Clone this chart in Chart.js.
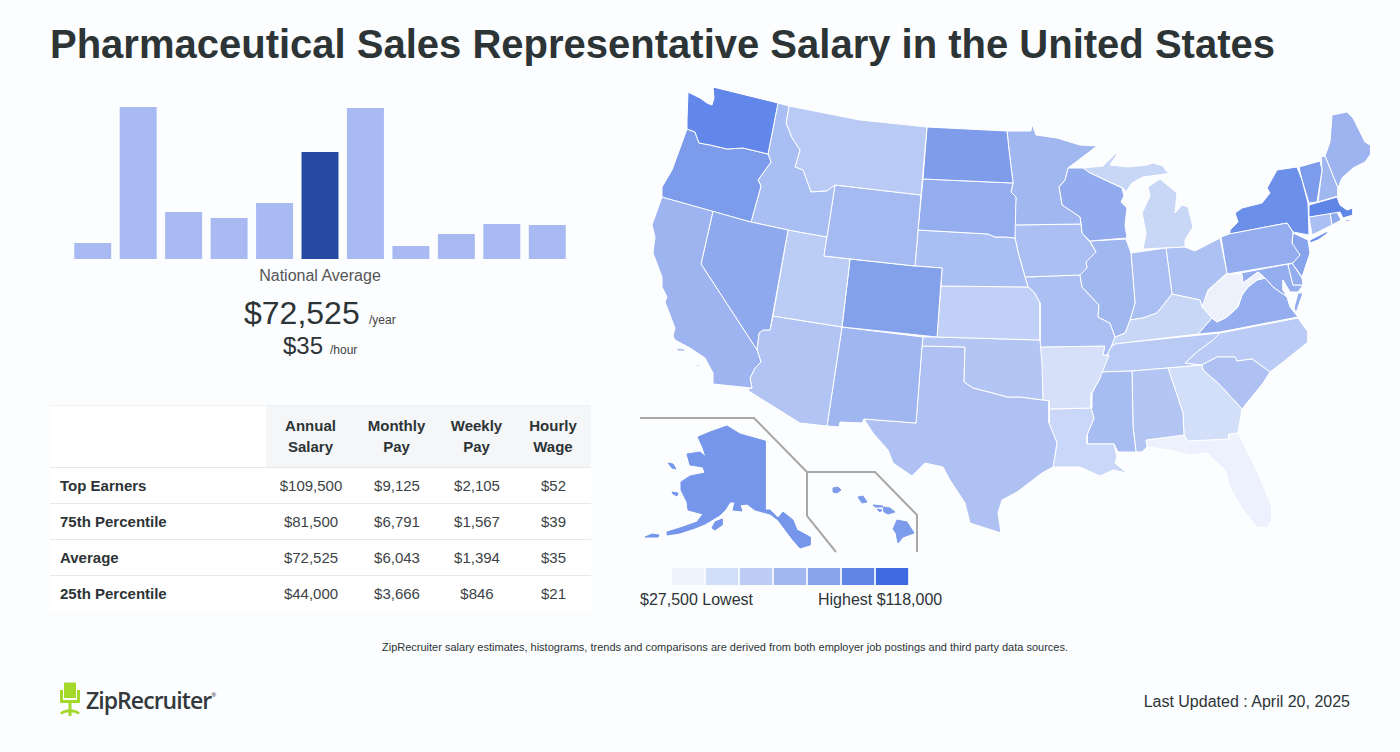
<!DOCTYPE html>
<html>
<head>
<meta charset="utf-8">
<title>Pharmaceutical Sales Representative Salary in the United States</title>
<script src="https://cdn.jsdelivr.net/npm/chart.js@4/dist/chart.umd.min.js"></script>
<style>
  html, body { margin: 0; padding: 0; }
  body { width: 1400px; height: 752px; position: relative; overflow: hidden; background: #fbfdff;
         font-family: "Liberation Sans", Arial, sans-serif; color: #2d3436; }
  .abs { position: absolute; white-space: nowrap; }
  canvas { position: absolute; display: block; }
  h1 { position: absolute; left: 50px; top: 20px; margin: 0; font-size: 40px; line-height: 48px; font-weight: bold; white-space: nowrap; }
  table { position: absolute; left: 50px; top: 405px; width: 541px; border-collapse: collapse; table-layout: fixed; background: #fff; font-size: 15px; }
  th { background: #f5f6f8; font-weight: bold; height: 59px; padding: 0 1px 2px 0; line-height: 21px; border-top: 1px solid #f0f1f3; border-bottom: 1px solid #e6e8ea; }
  th:first-child { background: #fff; }
  td { height: 35px; padding: 0; text-align: center; border-bottom: 1px solid #e6e8ea; color: #3c4346; }
  tr:last-child td { border-bottom: none; }
  td:first-child { text-align: left; padding-left: 10px; font-weight: bold; color: #2d3436; }
</style>
</head>
<body>
<h1>Pharmaceutical Sales Representative Salary in the United States</h1>

<canvas id="histogram" width="500" height="160" style="left:70px;top:99px"></canvas>
<div class="abs" style="left:170px;width:300px;text-align:center;top:267px;font-size:16px;color:#555">National Average</div>
<div class="abs" style="left:244px;top:294px;font-size:32px;line-height:38px">$72,525</div>
<div class="abs" style="left:369px;top:313px;font-size:12px;line-height:14px;color:#444">/year</div>
<div class="abs" style="left:283px;top:331px;font-size:24px;line-height:30px">$35</div>
<div class="abs" style="left:330px;top:343px;font-size:12px;line-height:14px;color:#444">/hour</div>

<table id="payTable"></table>

<canvas id="usMap" width="740" height="480" style="left:630px;top:80px"></canvas>
<canvas id="mapKey" width="238" height="17" style="left:671px;top:568px"></canvas>
<div class="abs" style="left:640px;top:591px;font-size:16px;line-height:18px">$27,500 Lowest</div>
<div class="abs" style="left:818px;top:591px;font-size:16px;line-height:18px">Highest $118,000</div>

<div class="abs" style="left:0;width:1450px;text-align:center;top:640px;font-size:11px;line-height:14px">ZipRecruiter salary estimates, histograms, trends and comparisons are derived from both employer job postings and third party data sources.</div>

<svg class="abs" style="left:59px;top:682px" width="22" height="36" viewBox="0 0 22 36">
  <path d="M5 1.5q0-1 1-1h10q1 0 1 1V16H5z" fill="#a4d82a"/>
  <path d="M1 8h3v10h14V8h3v12q0 1-1 1H2q-1 0-1-1z" fill="#a4d82a"/>
  <path d="M9.5 21h3v13h-3z" fill="#a4d82a"/>
  <path d="M1 31c4-5 16-5 20 0l-2 1.5c-3-3-13-3-16 0z" fill="#a4d82a"/>
</svg>
<div class="abs" style="left:86px;top:680px;font-family:'Open Sans',sans-serif;font-size:23px;line-height:30px;font-weight:600;letter-spacing:-0.95px;color:#33393c">ZipRecruiter<span style="font-size:6px;vertical-align:12px;letter-spacing:0;font-weight:400">®</span></div>
<div class="abs" style="right:50px;top:693px;font-size:16px;line-height:18px">Last Updated : April 20, 2025</div>

<script>
Chart.defaults.animation = false;

// salary histogram, heights (no axis in the original)
var binLabels = ['1', '2', '3', '4', '5', '6', '7', '8', '9', '10', '11'];
var binValues = [16, 152, 47, 41, 56, 107, 151, 13, 25, 35, 34];
var binColors = ['#a8baf1', '#a8baf1', '#a8baf1', '#a8baf1', '#a8baf1', '#264aa3', '#a8baf1', '#a8baf1', '#a8baf1', '#a8baf1', '#a8baf1'];

// pay table
var tableHead = ['', 'Annual<br>Salary', 'Monthly<br>Pay', 'Weekly<br>Pay', 'Hourly<br>Wage'];
var rowTop = ['Top Earners', '$109,500', '$9,125', '$2,105', '$52'];
var row75 = ['75th Percentile', '$81,500', '$6,791', '$1,567', '$39'];
var rowAvg = ['Average', '$72,525', '$6,043', '$1,394', '$35'];
var row25 = ['25th Percentile', '$44,000', '$3,666', '$846', '$21'];

// map key
var keyLabels = ['1', '2', '3', '4', '5', '6', '7'];
var keyValues = [1, 1, 1, 1, 1, 1, 1];
var keyColors = ['#eff3fd', '#d3def8', '#bdcdf5', '#a3b8f0', '#88a3eb', '#5f85e6', '#3f6be0'];

// state outlines, traced in map units
var wa = [[688,92],[700,98],[707,103],[712,105],[714,98],[713,87],[778,103],[768,154],[743,148],[727,149],[710,145],[699,143],[695,132],[687,129],[687,120]];
var or = [[687,129],[695,132],[699,143],[710,145],[727,149],[743,148],[768,154],[771,162],[758,180],[761,186],[751,222],[662,197],[662,187],[672,170],[683,140]];
var ca = [[662,197],[713,211],[701,264],[757,350],[761,362],[755,368],[750,378],[752,388],[713,384],[713,373],[705,358],[690,348],[675,340],[673,336],[675,328],[665,302],[667,297],[662,287],[662,277],[653,253],[655,237],[652,225]];
var caIslandA = [[676,348],[684,349],[686,351],[678,351]];
var caIslandB = [[696,364],[699,365],[700,367],[697,366]];
var nv = [[713,211],[751,222],[788,230],[770,330],[763,330],[759,333],[757,350],[701,264]];
var id = [[778,103],[789,106],[786,123],[792,138],[800,150],[795,167],[803,170],[811,192],[827,191],[835,185],[827,237],[788,230],[751,222],[761,186],[758,180],[771,162],[768,154]];
var mt = [[789,106],[860,120],[927,127],[921,195],[835,185],[827,191],[811,192],[803,170],[795,167],[800,150],[792,138],[786,123]];
var wy = [[835,185],[921,195],[915,266],[824,256]];
var ut = [[788,230],[827,237],[824,256],[850,259],[842,327],[773,316]];
var co = [[850,259],[915,266],[942,268],[937,337],[842,327]];
var az = [[773,316],[842,327],[827,426],[800,423],[747,390],[752,388],[750,378],[755,368],[761,362],[757,350],[759,333],[763,330],[770,330]];
var nm = [[842,327],[923,337],[922,346],[916,423],[864,419],[862,423],[840,422],[839,427],[827,426]];
var nd = [[927,127],[1007,131],[1009,150],[1013,183],[923,179]];
var sd = [[923,179],[1013,183],[1011,192],[1016,197],[1015,238],[1005,237],[995,237],[988,234],[918,230]];
var ne = [[918,230],[988,234],[995,237],[1005,237],[1015,238],[1018,252],[1025,277],[1028,287],[941,286],[942,268],[915,266]];
var ks = [[941,286],[1028,287],[1034,292],[1040,303],[1040,340],[937,337]];
var ok = [[923,337],[937,337],[1040,340],[1042,365],[1043,400],[1020,397],[1007,397],[993,393],[973,388],[964,382],[965,347],[922,346]];
var tx = [[922,346],[965,347],[964,382],[973,388],[993,393],[1007,397],[1020,397],[1043,400],[1049,401],[1049,423],[1057,443],[1053,467],[1042,473],[1017,492],[1002,500],[998,513],[1001,533],[970,523],[965,503],[950,480],[943,467],[925,463],[912,476],[893,463],[888,450],[873,433],[864,419],[916,423]];
var mn = [[1007,131],[1031,131],[1032,124],[1036,135],[1057,138],[1080,145],[1097,146],[1068,168],[1065,180],[1059,187],[1062,205],[1080,217],[1081,224],[1014,225],[1016,197],[1011,192],[1013,183],[1009,150]];
var ia = [[1014,225],[1081,224],[1082,233],[1090,242],[1096,252],[1086,262],[1087,268],[1080,275],[1025,277],[1018,252],[1015,238]];
var wi = [[1068,168],[1083,168],[1090,173],[1122,188],[1124,196],[1121,202],[1127,208],[1125,225],[1127,238],[1090,241],[1082,233],[1081,224],[1080,217],[1062,205],[1059,187],[1065,180]];
var il = [[1090,241],[1126,239],[1131,253],[1135,303],[1130,320],[1125,333],[1115,337],[1110,323],[1098,317],[1099,305],[1082,287],[1080,275],[1087,268],[1086,262],[1096,252]];
var mo = [[1025,277],[1080,275],[1082,287],[1099,305],[1098,317],[1110,323],[1115,337],[1111,347],[1107,355],[1103,355],[1105,346],[1040,347],[1040,303],[1034,292],[1028,287]];
var ar = [[1040,347],[1105,346],[1103,355],[1109,355],[1100,378],[1092,393],[1091,408],[1049,409],[1049,401],[1043,400]];
var la = [[1049,409],[1091,408],[1094,418],[1087,435],[1087,444],[1114,444],[1117,457],[1115,463],[1127,473],[1113,470],[1100,476],[1080,467],[1053,467],[1057,443],[1049,423]];
var ms = [[1101,372],[1132,371],[1133,427],[1136,452],[1118,452],[1114,444],[1087,444],[1087,435],[1094,418],[1091,408],[1092,393],[1100,378]];
var al = [[1132,371],[1168,368],[1183,413],[1184,435],[1146,440],[1147,447],[1142,452],[1136,452],[1133,427]];
var ga = [[1168,368],[1202,365],[1203,370],[1220,385],[1242,409],[1238,433],[1229,434],[1229,439],[1188,441],[1184,435],[1183,413]];
var fl = [[1146,440],[1184,435],[1188,441],[1229,439],[1229,434],[1238,433],[1258,473],[1272,507],[1272,520],[1267,528],[1257,527],[1243,510],[1230,488],[1225,470],[1207,453],[1190,455],[1170,450],[1147,447]];
var sc = [[1202,365],[1217,357],[1235,357],[1237,361],[1252,359],[1270,372],[1263,383],[1242,409],[1220,385],[1203,370]];
var nc = [[1220,333],[1298,318],[1308,332],[1308,342],[1298,350],[1283,362],[1270,372],[1252,359],[1237,361],[1235,357],[1217,357],[1202,365],[1185,363],[1197,352],[1213,340]];
var tn = [[1115,344],[1132,342],[1220,333],[1213,340],[1197,352],[1185,363],[1202,365],[1168,368],[1132,371],[1101,372],[1109,355],[1107,355],[1111,347]];
var ky = [[1115,337],[1125,333],[1130,320],[1143,318],[1157,313],[1172,294],[1200,300],[1202,307],[1212,318],[1198,334],[1132,342],[1115,344],[1111,347]];
var inn = [[1131,253],[1166,248],[1172,294],[1157,313],[1143,318],[1130,320],[1135,303]];
var oh = [[1166,248],[1185,247],[1195,251],[1220,238],[1227,273],[1208,290],[1202,307],[1200,300],[1172,294]];
var miLower = [[1143,249],[1185,247],[1185,240],[1193,227],[1188,207],[1182,205],[1175,213],[1177,193],[1160,179],[1148,187],[1150,196],[1142,213],[1146,233]];
var miUpper = [[1083,168],[1103,166],[1115,154],[1118,153],[1110,165],[1128,167],[1147,165],[1153,163],[1163,166],[1167,172],[1172,173],[1158,175],[1143,177],[1132,183],[1126,192],[1123,188],[1090,173]];
var wv = [[1227,274],[1242,274],[1243,283],[1258,272],[1265,278],[1257,280],[1248,287],[1242,295],[1238,307],[1227,317],[1217,322],[1212,318],[1202,307],[1208,290]];
var va = [[1198,334],[1212,318],[1217,322],[1227,317],[1238,307],[1242,295],[1248,287],[1257,280],[1265,278],[1273,287],[1287,297],[1290,307],[1298,317],[1220,332]];
var vaShore = [[1298,293],[1303,293],[1296,313],[1294,308]];
var pa = [[1221,237],[1229,234],[1287,223],[1293,232],[1292,243],[1300,255],[1293,263],[1227,274]];
var ny = [[1230,234],[1230,230],[1238,222],[1235,213],[1242,208],[1262,203],[1270,193],[1267,188],[1277,170],[1297,167],[1302,180],[1308,203],[1309,235],[1293,232],[1287,223]];
var nyIsland = [[1310,240],[1328,231],[1328,233],[1318,240],[1310,243]];
var vt = [[1299,167],[1320,161],[1322,170],[1317,202],[1309,203],[1302,180]];
var nh = [[1321,157],[1325,156],[1338,188],[1338,196],[1318,202],[1322,170]];
var me = [[1325,156],[1330,142],[1332,115],[1347,112],[1353,118],[1365,142],[1375,148],[1365,162],[1353,168],[1342,178],[1338,188]];
var ma = [[1309,205],[1337,197],[1340,205],[1347,210],[1353,208],[1353,215],[1343,218],[1340,212],[1309,217]];
var maIsland = [[1345,220],[1350,219],[1350,221],[1346,221]];
var ct = [[1309,217],[1330,213],[1332,225],[1312,235]];
var ri = [[1330,213],[1337,212],[1341,220],[1332,225]];
var nj = [[1293,233],[1308,240],[1310,253],[1302,277],[1292,263],[1300,255],[1292,245]];
var de = [[1288,265],[1292,263],[1302,278],[1303,285],[1293,285]];
var md = [[1241,273],[1288,264],[1293,285],[1303,285],[1298,292],[1290,292],[1283,280],[1283,290],[1287,297],[1273,287],[1265,278],[1258,272],[1243,283]];
var ak = [[698,437],[710,432],[727,426],[740,434],[765,441],[765,510],[770,510],[778,518],[783,512],[793,520],[797,530],[810,537],[810,545],[800,548],[793,540],[787,532],[778,520],[770,514],[755,510],[747,504],[740,505],[742,511],[733,510],[735,502],[730,502],[725,510],[720,515],[705,524],[695,528],[680,533],[667,535],[667,532],[683,527],[697,522],[703,514],[688,510],[687,502],[681,490],[681,482],[690,476],[705,473],[703,467],[690,465],[687,454],[700,452],[706,457],[703,448]];
var akKodiak = [[712,528],[715,522],[722,519],[722,525],[715,530]];
var akAleut = [[645,537],[652,534],[659,535],[658,537],[648,537]];
var akLawrence = [[668,463],[673,464],[676,469],[672,468]];
var akNunivak = [[672,492],[678,493],[677,496],[673,494]];
var hiBig = [[897,520],[907,522],[914,533],[903,537],[898,543],[896,533],[893,529]];
var hiMaui = [[883,507],[890,508],[895,512],[888,514],[884,512]];
var hiOahu = [[858,497],[863,496],[867,502],[862,503]];
var hiKauai = [[833,488],[838,487],[841,490],[837,493],[833,492]];
var hiMolokai = [[873,505],[883,506],[882,507],[875,507]];
var hiLanai = [[877,509],[882,510],[880,512]];

var mapShapes = [wa, or, ca, caIslandA, caIslandB, nv, id, mt, wy, ut, co, az, nm, nd, sd, ne, ks, ok, tx, mn, ia, wi, il, mo, ar, la, ms, al, ga, fl, sc, nc, tn, ky, inn, oh, miLower, miUpper, wv, va, vaShore, pa, ny, nyIsland, vt, nh, me, ma, maIsland, ct, ri, nj, de, md, ak, akKodiak, akAleut, akLawrence, akNunivak, hiBig, hiMaui, hiOahu, hiKauai, hiMolokai, hiLanai];
var mapColors = ['#6287ea', '#7c9beb', '#9db4f0', '#9db4f0', '#9db4f0', '#8fa9ed', '#a9bef2', '#b9cbf5', '#a5baf1', '#bbccf5', '#83a0ea', '#b1c4f3', '#a0b6f0', '#7f9ceb', '#93adee', '#a9bef2', '#c0d0f6', '#b3c5f3', '#aec1f2', '#a1b7f0', '#abbff2', '#91abee', '#a1b7f0', '#abbff2', '#d6e1f9', '#cad7f8', '#a7bcf1', '#b3c5f3', '#d3def9', '#edf1fd', '#aec1f2', '#bacbf5', '#b9cbf5', '#c9d7f7', '#abbff2', '#adc1f3', '#c9d7f7', '#c9d7f7', '#ecf1fc', '#94adee', '#94adee', '#94adee', '#6c8fe9', '#6c8fe9', '#7c9beb', '#a1b7f0', '#9db4f0', '#5f85e6', '#5f85e6', '#abbff2', '#8fa9ed', '#87a3ec', '#94adee', '#94adee', '#7596ea', '#7596ea', '#7596ea', '#7596ea', '#7596ea', '#7c9beb', '#7c9beb', '#7c9beb', '#7c9beb', '#7c9beb', '#7c9beb'];

// inset frames and the DC marker
var alaskaFrame = [[640,418],[754,418],[807,472]];
var hawaiiFrame = [[836,552],[807,516],[807,472],[875,472],[917,515],[917,552]];
var dcMarker = [[1275,282]];

function toPoints(list) {
  return list.map(function (p) { return {x: p[0], y: p[1]}; });
}

// table
var tableRows = [rowTop, row75, rowAvg, row25];
var colWidths = [216, 90, 82, 78, 75];
var html = '<colgroup>' + colWidths.map(function (w) { return '<col style="width:' + w + 'px">'; }).join('') + '</colgroup>';
html += '<tr>' + tableHead.map(function (t) { return '<th>' + t + '</th>'; }).join('') + '</tr>';
tableRows.forEach(function (r) {
  html += '<tr>' + r.map(function (c) { return '<td>' + c + '</td>'; }).join('') + '</tr>';
});
document.getElementById('payTable').innerHTML = html;

// histogram
new Chart(document.getElementById('histogram'), {
  type: 'bar',
  data: {
    labels: binLabels,
    datasets: [{ data: binValues, backgroundColor: binColors, barPercentage: 0.813, categoryPercentage: 1 }]
  },
  options: {
    responsive: false,
    layout: { padding: 0, autoPadding: false },
    plugins: { legend: { display: false }, tooltip: { enabled: false } },
    scales: {
      x: { display: false },
      y: { display: false, min: 0, max: 160 }
    }
  }
});

// map: Alaska and Hawaii have no white edge, it would eat the small islands
var firstInset = mapShapes.indexOf(ak);
var mapSets = mapShapes.map(function (shape, i) {
  return {
    data: toPoints(shape.concat([shape[0]])),
    showLine: true,
    fill: 'shape',
    tension: 0,
    backgroundColor: mapColors[i],
    borderColor: i >= firstInset ? mapColors[i] : '#ffffff',
    borderWidth: 1,
    borderJoinStyle: 'round',
    pointRadius: 0
  };
});
[alaskaFrame, hawaiiFrame].forEach(function (frame) {
  mapSets.push({ data: toPoints(frame), showLine: true, fill: false, tension: 0, borderColor: '#a8a8a8', borderWidth: 2, pointRadius: 0 });
});
mapSets.push({ data: toPoints(dcMarker), showLine: false, pointRadius: 3.5, backgroundColor: '#c3cfbf', borderColor: '#ffffff', borderWidth: 1 });

new Chart(document.getElementById('usMap'), {
  type: 'scatter',
  data: { datasets: mapSets },
  options: {
    responsive: false,
    layout: { padding: 0, autoPadding: false },
    plugins: { legend: { display: false }, tooltip: { enabled: false } },
    scales: {
      x: { type: 'linear', display: false, min: 630, max: 1370 },
      y: { type: 'linear', display: false, min: 80, max: 560, reverse: true }
    }
  }
});

// key swatches
new Chart(document.getElementById('mapKey'), {
  type: 'bar',
  data: {
    labels: keyLabels,
    datasets: [{ data: keyValues, backgroundColor: keyColors, barPercentage: 0.95, categoryPercentage: 1 }]
  },
  options: {
    responsive: false,
    layout: { padding: 0, autoPadding: false },
    plugins: { legend: { display: false }, tooltip: { enabled: false } },
    scales: {
      x: { display: false },
      y: { display: false, min: 0, max: 1 }
    }
  }
});
</script>
</body>
</html>
